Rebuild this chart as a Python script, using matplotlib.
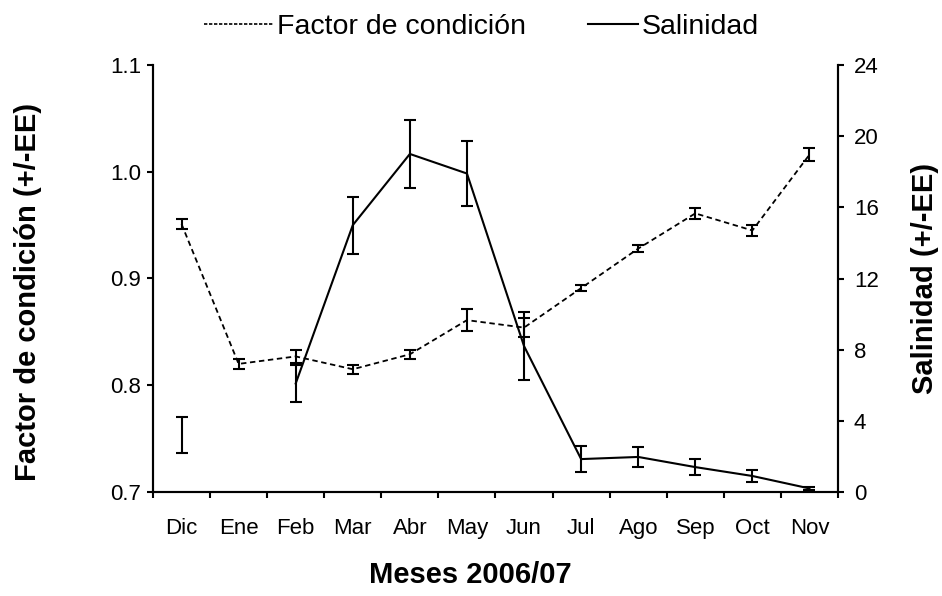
import matplotlib
matplotlib.use("Agg")
import matplotlib.pyplot as plt
import numpy as np
from matplotlib.lines import Line2D

plt.rcParams['font.family'] = ['Liberation Sans', 'DejaVu Sans']

months = ["Dic", "Ene", "Feb", "Mar", "Abr", "May", "Jun", "Jul", "Ago", "Sep", "Oct", "Nov"]
factor = [0.951, 0.820, 0.827, 0.815, 0.829, 0.861, 0.854, 0.891, 0.928, 0.961, 0.945, 1.016]
factor_err = [0.005, 0.005, 0.006, 0.004, 0.004, 0.010, 0.009, 0.003, 0.003, 0.005, 0.005, 0.006]
salinidad = [3.2, np.nan, 6.1, 15.0, 19.0, 17.9, 8.2, 1.85, 1.97, 1.4, 0.9, 0.2]
salinidad_err = [1.0, np.nan, 1.05, 1.6, 1.9, 1.85, 1.9, 0.73, 0.55, 0.45, 0.35, 0.08]

x = np.arange(len(months)) + 0.5

W, H = 942, 596
fig = plt.figure(figsize=(W / 100, H / 100), dpi=100)
ax = fig.add_axes([153 / W, 1 - 492 / H, 685 / W, 427 / H])
ax2 = ax.twinx()

ax.errorbar(x, factor, yerr=factor_err, color='black', linestyle=(0, (3, 2)),
            linewidth=1.3, capsize=4.5, elinewidth=1.5, capthick=1.5)
ax2.errorbar(x, salinidad, yerr=salinidad_err, color='black', linestyle='-',
             linewidth=1.5, capsize=4.5, elinewidth=1.5, capthick=1.5)

ax.set_xlim(0, 12)
ax.set_ylim(0.7, 1.1)
ax.set_yticks([0.7, 0.8, 0.9, 1.0, 1.1])
ax.set_yticklabels(["0.7", "0.8", "0.9", "1.0", "1.1"])
ax2.set_ylim(0, 24)
ax2.set_yticks([0, 4, 8, 12, 16, 20, 24])

ax.set_xticks(x)
ax.set_xticklabels(months)
ax.set_xticks(np.arange(0, 13), minor=True)
ax.tick_params(axis='x', which='major', length=0, labelsize=16, pad=19)
ax.tick_params(axis='x', which='minor', length=4.5, width=1.5, direction='out')
ax.tick_params(axis='y', labelsize=16, length=4.5, width=1.5, direction='out', pad=4)
ax2.tick_params(axis='y', labelsize=16, length=4.5, width=1.5, direction='out', pad=7)

for a in (ax, ax2):
    a.spines['top'].set_visible(False)
    for s in ('left', 'right', 'bottom'):
        a.spines[s].set_linewidth(1.5)

fig.text(470 / W, 1 - 575 / H, "Meses 2006/07", fontsize=21, fontweight='bold',
         ha='center', va='center')
fig.text(28 / W, 1 - 292 / H, "Factor de condición (+/-EE)", fontsize=21,
         fontweight='bold', rotation=90, ha='center', va='center')
fig.text(925 / W, 1 - 278 / H, "Salinidad (+/-EE)", fontsize=21,
         fontweight='bold', rotation=90, ha='center', va='center')

h1 = Line2D([], [], color='black', linestyle=(0, (2, 1)), linewidth=1.2)
h2 = Line2D([], [], color='black', linestyle='-', linewidth=1.5)
leg1 = fig.legend([h1], ["Factor de condición"], loc='center left',
                  bbox_to_anchor=(204 / W, 1 - 27 / H), frameon=False, fontsize=20.5,
                  handlelength=2.45, handletextpad=0.1, borderpad=0, borderaxespad=0)
leg2 = fig.legend([h2], ["Salinidad"], loc='center left',
                  bbox_to_anchor=(588 / W, 1 - 27 / H), frameon=False, fontsize=20.5,
                  handlelength=1.75, handletextpad=0.15, borderpad=0, borderaxespad=0)

fig.savefig("out.png", dpi=100)
